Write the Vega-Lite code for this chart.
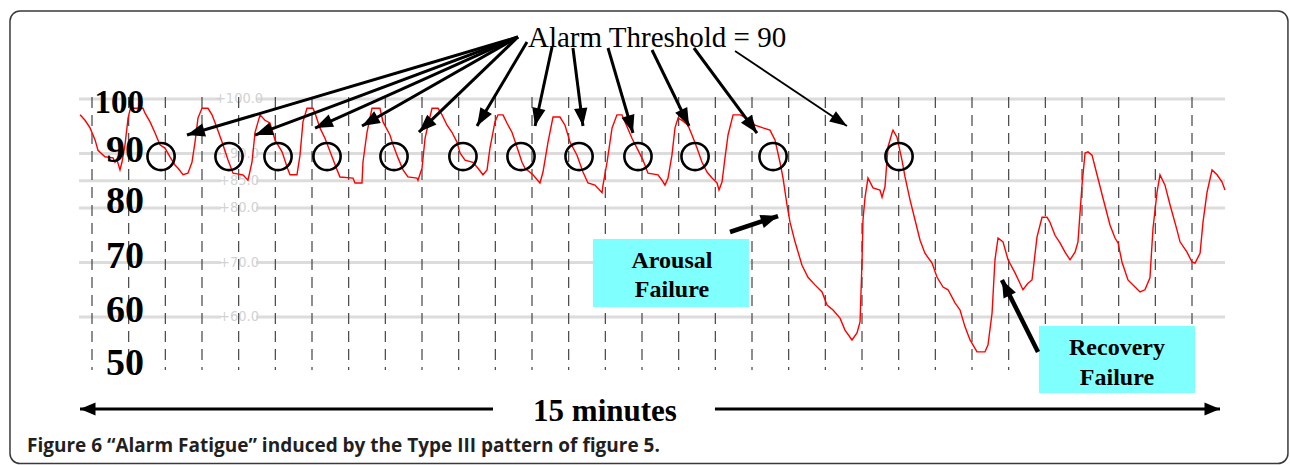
{
  "$schema": "https://vega.github.io/schema/vega-lite/v6.json",
  "width": 1290,
  "height": 465,
  "autosize": {"type": "fit", "contains": "padding"},
  "padding": 0,
  "background": "white",
  "config": {"view": {"stroke": null}, "axis": {"disable": true}},
  "datasets": {
    "frame": [{"t": -67.1, "v": 116.15, "t2": 978.5, "v2": 33.12}],
    "gridsegs": [
      {"v": 100, "t": -10.6, "t2": 105.5}, {"v": 100, "t": 134.2, "t2": 927.0},
      {"v": 90, "t": -10.6, "t2": 105.5}, {"v": 90, "t": 134.2, "t2": 927.0},
      {"v": 85, "t": -10.6, "t2": 105.5}, {"v": 85, "t": 134.2, "t2": 927.0},
      {"v": 80, "t": -10.6, "t2": 105.5}, {"v": 80, "t": 134.2, "t2": 927.0},
      {"v": 70, "t": -10.6, "t2": 105.5}, {"v": 70, "t": 134.2, "t2": 927.0},
      {"v": 60, "t": -10.6, "t2": 105.5}, {"v": 60, "t": 134.2, "t2": 927.0}
    ],
    "gridlabels": [
      {"t": 120.3, "v": 100, "label": "+100.0"}, {"t": 120.3, "v": 90, "label": "+90.0"},
      {"t": 120.3, "v": 85, "label": "+85.0"}, {"t": 120.3, "v": 80, "label": "+80.0"},
      {"t": 120.3, "v": 70, "label": "+70.0"}, {"t": 120.3, "v": 60, "label": "+60.0"}
    ],
    "ticks": [
      {"t": 0, "v": 100.37, "v2": 50.28}, {"t": 30, "v": 100.37, "v2": 50.28}, {"t": 60, "v": 100.37, "v2": 50.28},
      {"t": 90, "v": 100.37, "v2": 50.28}, {"t": 120, "v": 100.37, "v2": 50.28}, {"t": 150, "v": 100.37, "v2": 50.28},
      {"t": 180, "v": 100.37, "v2": 50.28}, {"t": 210, "v": 100.37, "v2": 50.28}, {"t": 240, "v": 100.37, "v2": 50.28},
      {"t": 270, "v": 100.37, "v2": 50.28}, {"t": 300, "v": 100.37, "v2": 50.28}, {"t": 330, "v": 100.37, "v2": 50.28},
      {"t": 360, "v": 100.37, "v2": 50.28}, {"t": 390, "v": 100.37, "v2": 50.28}, {"t": 420, "v": 100.37, "v2": 50.28},
      {"t": 450, "v": 100.37, "v2": 50.28}, {"t": 480, "v": 100.37, "v2": 50.28}, {"t": 510, "v": 100.37, "v2": 50.28},
      {"t": 540, "v": 100.37, "v2": 50.28}, {"t": 570, "v": 100.37, "v2": 50.28}, {"t": 600, "v": 100.37, "v2": 50.28},
      {"t": 630, "v": 100.37, "v2": 50.28}, {"t": 660, "v": 100.37, "v2": 50.28}, {"t": 690, "v": 100.37, "v2": 50.28},
      {"t": 720, "v": 100.37, "v2": 50.28}, {"t": 750, "v": 100.37, "v2": 50.28}, {"t": 780, "v": 100.37, "v2": 50.28},
      {"t": 810, "v": 100.37, "v2": 50.28}, {"t": 840, "v": 100.37, "v2": 50.28}, {"t": 870, "v": 100.37, "v2": 50.28},
      {"t": 900, "v": 100.37, "v2": 50.28}
    ],
    "trace": [
      {"t": -9.8, "v": 97.1}, {"t": -5.7, "v": 96.1}, {"t": -1.6, "v": 94.7}, {"t": 2.5, "v": 92.5},
      {"t": 4.9, "v": 90.6}, {"t": 10.6, "v": 89.4}, {"t": 17.2, "v": 89.2}, {"t": 18.8, "v": 88.4},
      {"t": 20.5, "v": 88.8}, {"t": 22.9, "v": 87.0}, {"t": 24.5, "v": 88.4}, {"t": 27.0, "v": 91.6},
      {"t": 29.5, "v": 96.5}, {"t": 31.1, "v": 98.0}, {"t": 33.5, "v": 98.3}, {"t": 41.7, "v": 98.3},
      {"t": 43.4, "v": 97.4}, {"t": 47.5, "v": 95.8}, {"t": 51.5, "v": 93.8}, {"t": 55.6, "v": 91.6},
      {"t": 59.7, "v": 91.0}, {"t": 63.8, "v": 89.4}, {"t": 67.9, "v": 87.9}, {"t": 70.4, "v": 87.3},
      {"t": 74.5, "v": 86.1}, {"t": 78.5, "v": 86.4}, {"t": 81.8, "v": 88.4}, {"t": 84.3, "v": 92.1},
      {"t": 86.7, "v": 96.5}, {"t": 90.0, "v": 98.3}, {"t": 94.9, "v": 98.3}, {"t": 98.2, "v": 97.1},
      {"t": 102.3, "v": 94.7}, {"t": 106.4, "v": 92.1}, {"t": 111.3, "v": 88.8}, {"t": 115.4, "v": 86.4},
      {"t": 123.5, "v": 86.1}, {"t": 127.6, "v": 85.1}, {"t": 130.9, "v": 88.4}, {"t": 133.4, "v": 93.9},
      {"t": 137.5, "v": 97.1}, {"t": 141.5, "v": 96.1}, {"t": 145.6, "v": 95.6}, {"t": 149.7, "v": 92.5},
      {"t": 155.5, "v": 90.3}, {"t": 160.4, "v": 87.0}, {"t": 162.0, "v": 86.1}, {"t": 167.7, "v": 86.1},
      {"t": 170.2, "v": 89.7}, {"t": 172.6, "v": 95.8}, {"t": 175.9, "v": 98.3}, {"t": 180.8, "v": 98.3},
      {"t": 182.5, "v": 97.4}, {"t": 186.5, "v": 94.7}, {"t": 190.6, "v": 92.8}, {"t": 196.4, "v": 89.4},
      {"t": 200.5, "v": 87.0}, {"t": 202.9, "v": 85.7}, {"t": 213.5, "v": 85.5}, {"t": 215.2, "v": 84.6},
      {"t": 220.9, "v": 84.6}, {"t": 221.7, "v": 88.4}, {"t": 225.0, "v": 93.9}, {"t": 229.1, "v": 98.3},
      {"t": 235.6, "v": 98.3}, {"t": 238.1, "v": 95.8}, {"t": 243.8, "v": 93.4}, {"t": 246.3, "v": 91.6},
      {"t": 250.4, "v": 89.2}, {"t": 254.5, "v": 87.0}, {"t": 258.5, "v": 85.7}, {"t": 265.9, "v": 85.5},
      {"t": 266.7, "v": 85.1}, {"t": 270.0, "v": 87.3}, {"t": 272.5, "v": 92.8}, {"t": 274.9, "v": 95.2},
      {"t": 278.2, "v": 98.3}, {"t": 283.1, "v": 98.3}, {"t": 286.4, "v": 97.1}, {"t": 290.5, "v": 95.2},
      {"t": 294.5, "v": 93.9}, {"t": 298.6, "v": 92.1}, {"t": 301.1, "v": 90.1}, {"t": 305.2, "v": 88.8},
      {"t": 311.7, "v": 88.4}, {"t": 315.8, "v": 87.3}, {"t": 319.9, "v": 86.1}, {"t": 323.2, "v": 87.0},
      {"t": 325.6, "v": 91.0}, {"t": 329.7, "v": 95.8}, {"t": 332.2, "v": 97.1}, {"t": 336.3, "v": 97.1},
      {"t": 339.5, "v": 95.6}, {"t": 343.6, "v": 93.9}, {"t": 347.7, "v": 91.2}, {"t": 351.8, "v": 88.4},
      {"t": 354.3, "v": 87.3}, {"t": 360.8, "v": 86.1}, {"t": 366.5, "v": 84.6}, {"t": 369.0, "v": 86.6},
      {"t": 373.1, "v": 92.1}, {"t": 377.2, "v": 96.7}, {"t": 382.9, "v": 96.7}, {"t": 387.0, "v": 95.2},
      {"t": 391.1, "v": 92.1}, {"t": 396.8, "v": 89.7}, {"t": 401.7, "v": 86.6}, {"t": 405.8, "v": 84.6},
      {"t": 411.5, "v": 84.2}, {"t": 417.3, "v": 82.8}, {"t": 418.1, "v": 84.2}, {"t": 421.4, "v": 88.4},
      {"t": 425.5, "v": 94.7}, {"t": 429.5, "v": 97.1}, {"t": 433.6, "v": 97.1}, {"t": 436.1, "v": 95.8},
      {"t": 441.8, "v": 92.8}, {"t": 445.9, "v": 91.0}, {"t": 450.8, "v": 88.8}, {"t": 454.9, "v": 86.4},
      {"t": 463.1, "v": 86.1}, {"t": 466.3, "v": 85.1}, {"t": 468.8, "v": 84.2}, {"t": 471.3, "v": 85.5},
      {"t": 474.5, "v": 89.7}, {"t": 477.0, "v": 94.7}, {"t": 479.5, "v": 96.5}, {"t": 482.7, "v": 96.1},
      {"t": 487.6, "v": 95.2}, {"t": 490.9, "v": 93.4}, {"t": 495.0, "v": 91.0}, {"t": 499.1, "v": 88.4},
      {"t": 503.2, "v": 86.6}, {"t": 507.3, "v": 85.5}, {"t": 511.4, "v": 84.6}, {"t": 513.0, "v": 83.3},
      {"t": 515.5, "v": 84.8}, {"t": 517.9, "v": 89.2}, {"t": 520.4, "v": 93.4}, {"t": 524.5, "v": 97.1},
      {"t": 530.2, "v": 97.1}, {"t": 535.9, "v": 96.5}, {"t": 542.5, "v": 95.2}, {"t": 549.0, "v": 94.7},
      {"t": 554.7, "v": 94.3}, {"t": 558.8, "v": 92.5}, {"t": 562.9, "v": 88.4}, {"t": 565.4, "v": 85.5},
      {"t": 568.6, "v": 80.6}, {"t": 571.1, "v": 77.4}, {"t": 575.2, "v": 73.8}, {"t": 580.9, "v": 69.5},
      {"t": 585.8, "v": 67.3}, {"t": 591.5, "v": 65.9}, {"t": 597.3, "v": 64.6}, {"t": 601.4, "v": 62.2},
      {"t": 606.3, "v": 61.3}, {"t": 612.0, "v": 59.8}, {"t": 616.1, "v": 57.6}, {"t": 621.8, "v": 55.8},
      {"t": 625.9, "v": 57.1}, {"t": 628.4, "v": 59.1}, {"t": 630.0, "v": 70.1}, {"t": 630.8, "v": 77.8},
      {"t": 632.5, "v": 82.0}, {"t": 634.9, "v": 85.5}, {"t": 639.0, "v": 83.7}, {"t": 644.7, "v": 83.3},
      {"t": 646.4, "v": 82.0}, {"t": 648.8, "v": 83.9}, {"t": 651.3, "v": 91.2}, {"t": 654.6, "v": 93.8},
      {"t": 655.4, "v": 94.3}, {"t": 658.6, "v": 93.0}, {"t": 662.7, "v": 88.8}, {"t": 665.2, "v": 85.7},
      {"t": 669.3, "v": 81.5}, {"t": 673.4, "v": 77.8}, {"t": 677.5, "v": 74.1}, {"t": 681.5, "v": 71.7},
      {"t": 687.3, "v": 69.9}, {"t": 691.4, "v": 67.3}, {"t": 696.3, "v": 65.5}, {"t": 700.4, "v": 65.0},
      {"t": 706.1, "v": 62.6}, {"t": 710.2, "v": 61.3}, {"t": 714.3, "v": 58.2}, {"t": 718.4, "v": 55.8},
      {"t": 724.1, "v": 53.6}, {"t": 730.6, "v": 53.6}, {"t": 733.1, "v": 54.9}, {"t": 736.4, "v": 60.7},
      {"t": 738.8, "v": 70.5}, {"t": 741.3, "v": 74.5}, {"t": 745.4, "v": 73.8}, {"t": 749.5, "v": 70.5},
      {"t": 755.2, "v": 68.1}, {"t": 761.7, "v": 65.0}, {"t": 765.8, "v": 66.2}, {"t": 769.1, "v": 66.8},
      {"t": 773.2, "v": 74.7}, {"t": 777.3, "v": 78.3}, {"t": 781.4, "v": 78.3}, {"t": 783.8, "v": 77.4},
      {"t": 787.9, "v": 75.0}, {"t": 792.0, "v": 73.6}, {"t": 796.1, "v": 71.9}, {"t": 800.2, "v": 70.5},
      {"t": 804.3, "v": 71.9}, {"t": 806.7, "v": 73.8}, {"t": 810.0, "v": 84.2}, {"t": 812.5, "v": 90.1},
      {"t": 814.9, "v": 90.3}, {"t": 818.2, "v": 89.7}, {"t": 822.3, "v": 86.1}, {"t": 827.2, "v": 81.8},
      {"t": 832.9, "v": 76.9}, {"t": 837.0, "v": 74.5}, {"t": 839.5, "v": 73.6}, {"t": 842.7, "v": 70.1},
      {"t": 847.6, "v": 66.8}, {"t": 853.4, "v": 65.5}, {"t": 857.5, "v": 64.6}, {"t": 861.5, "v": 65.0},
      {"t": 865.6, "v": 67.2}, {"t": 868.1, "v": 76.3}, {"t": 871.4, "v": 82.9}, {"t": 873.8, "v": 86.1},
      {"t": 877.9, "v": 84.2}, {"t": 882.0, "v": 80.6}, {"t": 887.7, "v": 76.0}, {"t": 890.2, "v": 73.8},
      {"t": 895.9, "v": 71.9}, {"t": 900.0, "v": 70.1}, {"t": 902.5, "v": 69.9}, {"t": 906.6, "v": 71.7},
      {"t": 909.0, "v": 77.4}, {"t": 912.3, "v": 82.9}, {"t": 916.4, "v": 87.0}, {"t": 920.5, "v": 86.1},
      {"t": 924.5, "v": 84.8}, {"t": 927.0, "v": 83.3}
    ],
    "alarms": [
      {"t": 56.5, "v": 89.45}, {"t": 112.1, "v": 89.45}, {"t": 152.2, "v": 89.45}, {"t": 192.3, "v": 89.45},
      {"t": 247.1, "v": 89.45}, {"t": 303.5, "v": 89.45}, {"t": 351.0, "v": 89.45}, {"t": 398.5, "v": 89.45},
      {"t": 446.7, "v": 89.45}, {"t": 493.4, "v": 89.45}, {"t": 557.2, "v": 89.45}, {"t": 660.3, "v": 89.45}
    ],
    "ylabBig": [
      {"t": 42.5, "v": 88.53, "label": "90"}, {"t": 42.5, "v": 79.08, "label": "80"},
      {"t": 42.5, "v": 68.99, "label": "70"}, {"t": 42.5, "v": 59.08, "label": "60"},
      {"t": 42.5, "v": 49.36, "label": "50"}
    ],
    "ylabTop": [{"t": 42.5, "v": 97.43, "label": "100"}],
    "threshold": [{"t": 356.7, "v": 109.54, "label": "Alarm Threshold = 90"}],
    "arrowsThick": [
      {"t": 348.5, "v": 111.38, "t2": 77.7, "v2": 93.39, "a": 163.5},
      {"t": 348.5, "v": 111.38, "t2": 133.4, "v2": 93.39, "a": 159.6},
      {"t": 348.5, "v": 111.38, "t2": 182.5, "v2": 94.68, "a": 155.9},
      {"t": 348.5, "v": 111.38, "t2": 220.9, "v2": 95.05, "a": 150.3},
      {"t": 348.5, "v": 111.38, "t2": 267.5, "v2": 93.94, "a": 136.2},
      {"t": 355.9, "v": 110.46, "t2": 315.0, "v2": 95.05, "a": 120.8},
      {"t": 376.4, "v": 109.54, "t2": 362.5, "v2": 95.05, "a": 102.1},
      {"t": 393.5, "v": 109.36, "t2": 401.7, "v2": 95.05, "a": 82.7},
      {"t": 422.2, "v": 109.36, "t2": 442.6, "v2": 93.76, "a": 73.6},
      {"t": 458.2, "v": 108.99, "t2": 488.5, "v2": 95.05, "a": 64.0},
      {"t": 492.5, "v": 109.36, "t2": 544.1, "v2": 93.76, "a": 53.4}
    ],
    "arrowsThin": [
      {"t": 526.1, "v": 108.81, "t2": 617.7, "v2": 95.05, "a": 33.8}
    ],
    "arrowsBold": [
      {"t": 522.0, "v": 75.60, "t2": 561.3, "v2": 78.53, "a": -18.4},
      {"t": 774.0, "v": 53.58, "t2": 744.5, "v2": 66.79, "a": -116.6}
    ],
    "boxes": [
      {"t": 409.9, "v": 74.31, "t2": 537.5, "v2": 61.83},
      {"t": 774.8, "v": 58.35, "t2": 902.5, "v2": 46.06}
    ],
    "boxText": [
      {"t": 474.5, "v": 68.94, "label": "Arousal"},
      {"t": 474.5, "v": 63.73, "label": "Failure"},
      {"t": 838.6, "v": 53.03, "label": "Recovery"},
      {"t": 838.6, "v": 47.52, "label": "Failure"}
    ],
    "spanLine": [
      {"t": -9.8, "t2": 328.1, "v": 43.12},
      {"t": 509.7, "t2": 922.9, "v": 43.12}
    ],
    "spanHeads": [
      {"t": -9.8, "v": 43.12, "a": 180},
      {"t": 922.9, "v": 43.12, "a": 0}
    ],
    "spanText": [{"t": 419.7, "v": 40.92, "label": "15 minutes"}],
    "caption": [{"t": -53.2, "v": 35.23, "label": "Figure 6 \u201cAlarm Fatigue\u201d induced by the Type III pattern of figure 5."}]
  },
  "encoding": {
    "x": {"field": "t", "type": "quantitative", "scale": {"domain": [-75.27, 980.18], "nice": false, "zero": false}, "axis": null},
    "y": {"field": "v", "type": "quantitative", "scale": {"domain": [32.85, 118.17], "nice": false, "zero": false}, "axis": null}
  },
  "layer": [
    {
      "data": {"name": "frame"},
      "mark": {"type": "rect", "fill": "transparent", "stroke": "#3a3a3a", "strokeWidth": 1.5, "cornerRadius": 10},
      "encoding": {"x2": {"field": "t2"}, "y2": {"field": "v2"}}
    },
    {
      "data": {"name": "gridsegs"},
      "mark": {"type": "rule", "color": "#dcdcdc", "strokeWidth": 3},
      "encoding": {"x2": {"field": "t2"}}
    },
    {
      "data": {"name": "gridlabels"},
      "mark": {"type": "text", "font": "Liberation Sans Narrow, DejaVu Sans Condensed, Roboto, sans-serif", "fontSize": 14.5, "color": "#d2d2d2", "align": "center", "baseline": "middle"},
      "encoding": {"text": {"field": "label"}}
    },
    {
      "data": {"name": "ticks"},
      "mark": {"type": "rule", "color": "#444444", "strokeWidth": 1.2, "strokeDash": [11, 7]},
      "encoding": {"y2": {"field": "v2"}}
    },
    {
      "data": {"name": "trace"},
      "mark": {"type": "line", "color": "#ff0000", "strokeWidth": 1.4},
      "encoding": {}
    },
    {
      "data": {"name": "alarms"},
      "mark": {"type": "point", "shape": "circle", "filled": false, "stroke": "#000000", "strokeWidth": 2.6, "size": 740, "opacity": 1}
    },
    {
      "data": {"name": "ylabTop"},
      "mark": {"type": "text", "font": "Liberation Serif", "fontWeight": "bold", "fontSize": 33, "color": "#000000", "align": "right", "baseline": "alphabetic"},
      "encoding": {"text": {"field": "label"}}
    },
    {
      "data": {"name": "ylabBig"},
      "mark": {"type": "text", "font": "Liberation Serif", "fontWeight": "bold", "fontSize": 38, "color": "#000000", "align": "right", "baseline": "alphabetic"},
      "encoding": {"text": {"field": "label"}}
    },
    {
      "data": {"name": "threshold"},
      "mark": {"type": "text", "font": "Liberation Serif", "fontSize": 29, "color": "#000000", "align": "left", "baseline": "alphabetic"},
      "encoding": {"text": {"field": "label"}}
    },
    {
      "data": {"name": "arrowsThick"},
      "mark": {"type": "rule", "color": "#000000", "strokeWidth": 3},
      "encoding": {"x2": {"field": "t2"}, "y2": {"field": "v2"}}
    },
    {
      "data": {"name": "arrowsThick"},
      "mark": {"type": "point", "shape": "M0,0L-2,-0.75L-2,0.75Z", "filled": true, "color": "#000000", "size": 320, "opacity": 1},
      "encoding": {
        "x": {"field": "t2", "type": "quantitative"},
        "y": {"field": "v2", "type": "quantitative"},
        "angle": {"field": "a", "type": "quantitative", "scale": null}
      }
    },
    {
      "data": {"name": "arrowsThin"},
      "mark": {"type": "rule", "color": "#000000", "strokeWidth": 1.8},
      "encoding": {"x2": {"field": "t2"}, "y2": {"field": "v2"}}
    },
    {
      "data": {"name": "arrowsThin"},
      "mark": {"type": "point", "shape": "M0,0L-2,-0.7L-2,0.7Z", "filled": true, "color": "#000000", "size": 300, "opacity": 1},
      "encoding": {
        "x": {"field": "t2", "type": "quantitative"},
        "y": {"field": "v2", "type": "quantitative"},
        "angle": {"field": "a", "type": "quantitative", "scale": null}
      }
    },
    {
      "data": {"name": "boxes"},
      "mark": {"type": "rect", "fill": "#80ffff", "stroke": null},
      "encoding": {"x2": {"field": "t2"}, "y2": {"field": "v2"}}
    },
    {
      "data": {"name": "boxText"},
      "mark": {"type": "text", "font": "Liberation Serif", "fontWeight": "bold", "fontSize": 24, "color": "#000000", "align": "center", "baseline": "alphabetic"},
      "encoding": {"text": {"field": "label"}}
    },
    {
      "data": {"name": "arrowsBold"},
      "mark": {"type": "rule", "color": "#000000", "strokeWidth": 4.5},
      "encoding": {"x2": {"field": "t2"}, "y2": {"field": "v2"}}
    },
    {
      "data": {"name": "arrowsBold"},
      "mark": {"type": "point", "shape": "M0,0L-2,-0.8L-2,0.8Z", "filled": true, "color": "#000000", "size": 300, "opacity": 1},
      "encoding": {
        "x": {"field": "t2", "type": "quantitative"},
        "y": {"field": "v2", "type": "quantitative"},
        "angle": {"field": "a", "type": "quantitative", "scale": null}
      }
    },
    {
      "data": {"name": "spanLine"},
      "mark": {"type": "rule", "color": "#000000", "strokeWidth": 3},
      "encoding": {"x2": {"field": "t2"}}
    },
    {
      "data": {"name": "spanHeads"},
      "mark": {"type": "point", "shape": "M0,0L-2,-0.85L-2,0.85Z", "filled": true, "color": "#000000", "size": 240, "opacity": 1},
      "encoding": {"angle": {"field": "a", "type": "quantitative", "scale": null}}
    },
    {
      "data": {"name": "spanText"},
      "mark": {"type": "text", "font": "Liberation Serif", "fontWeight": "bold", "fontSize": 31, "color": "#000000", "align": "center", "baseline": "alphabetic"},
      "encoding": {"text": {"field": "label"}}
    },
    {
      "data": {"name": "caption"},
      "mark": {"type": "text", "font": "Open Sans", "fontWeight": "bold", "fontSize": 19, "color": "#231f20", "align": "left", "baseline": "alphabetic"},
      "encoding": {"text": {"field": "label"}}
    }
  ]
}
